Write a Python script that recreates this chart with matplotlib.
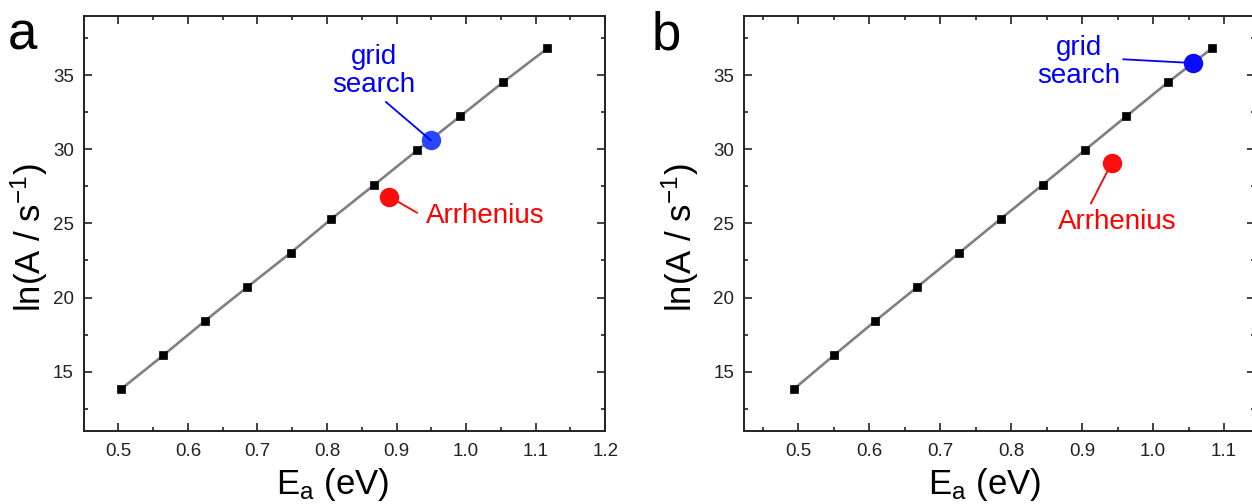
import matplotlib
matplotlib.use("Agg")
import matplotlib.pyplot as plt
from matplotlib.ticker import MultipleLocator

plt.rcParams["font.family"] = ["Liberation Sans", "DejaVu Sans"]
plt.rcParams["mathtext.default"] = "regular"

# Compensation-line points (activation energy vs. log prefactor)
ea_a = [0.5035, 0.5645, 0.6244, 0.6855, 0.7477, 0.8064, 0.8680, 0.9297, 0.9913, 1.0530, 1.1170]
lnA_a = [13.81, 16.10, 18.42, 20.71, 23.01, 25.30, 27.60, 29.93, 32.21, 34.51, 36.80]
ea_b = [0.4932, 0.5500, 0.6085, 0.6676, 0.7267, 0.7852, 0.8443, 0.9034, 0.9619, 1.0210, 1.0830]
lnA_b = [13.81, 16.10, 18.42, 20.71, 23.01, 25.30, 27.60, 29.92, 32.21, 34.51, 36.80]

# Fitted parameters from the two methods
grid_a = (0.949, 30.61)
arr_a = (0.889, 26.81)
grid_b = (1.0557, 35.81)
arr_b = (0.9415, 29.06)

W, H = 1252, 504
fig = plt.figure(figsize=(W / 100, H / 100), dpi=100)

ax_a = fig.add_axes([83.6 / W, (H - 431) / H, (605.2 - 83.6) / W, 415.3 / H])
ax_b = fig.add_axes([744 / W, (H - 431) / H, (1255 - 744) / W, 415.3 / H])


def style(ax, xlim, xmajor, xlab_x, ylab_x):
    ax.set_xlim(*xlim)
    ax.set_ylim(11, 39)
    ax.xaxis.set_minor_locator(MultipleLocator(0.05))
    ax.yaxis.set_major_locator(MultipleLocator(5))
    ax.yaxis.set_minor_locator(MultipleLocator(2.5))
    ax.set_xticks(xmajor)
    ax.set_xticklabels([f"{v:.1f}" for v in xmajor])
    ax.tick_params(which="both", direction="in", top=True, right=True,
                   labelsize=13.5, colors="#222222", width=1.2, pad=7)
    ax.tick_params(axis="x", which="both", pad=9)
    ax.tick_params(which="major", length=6)
    ax.tick_params(which="minor", length=3)
    for s in ax.spines.values():
        s.set_linewidth(1.4)
        s.set_color("#222222")
    ax.set_xlabel("E$_{a}$ (eV)", fontsize=25, va="top")
    ax.set_ylabel("ln(A / s$^{-1}$)", fontsize=25)
    ax.xaxis.set_label_coords(xlab_x, -0.085)
    ax.yaxis.set_label_coords(ylab_x, 0.465)


def draw(ax, xs, ys, grid, arr, grid_color):
    ax.plot(xs, ys, color="#808080", lw=1.9, zorder=2)
    ax.plot(xs, ys, ls="none", marker="s", ms=6.0, mew=0.5, color="black", zorder=3)
    ax.plot(*grid, marker="o", ms=14, mew=0, color=grid_color, ls="none", zorder=4)
    ax.plot(*arr, marker="o", ms=14, mew=0, color="#ff0d0d", ls="none", zorder=4)


style(ax_a, (0.45, 1.2), [0.5, 0.6, 0.7, 0.8, 0.9, 1.0, 1.1, 1.2], 0.478, -0.064)
style(ax_b, (0.4234, 1.1436), [0.5, 0.6, 0.7, 0.8, 0.9, 1.0, 1.1], 0.47, -0.084)

draw(ax_a, ea_a, lnA_a, grid_a, arr_a, "#2a46ff")
draw(ax_b, ea_b, lnA_b, grid_b, arr_b, "#0a0aff")

# Panel a annotations
ax_a.text(0.8675, 35.27, "grid\nsearch", color="#0000ff", fontsize=20,
          ha="center", va="center", linespacing=1.1)
ax_a.plot([0.8848, grid_a[0]], [33.18, grid_a[1]], color="#0000ff", lw=1.3, zorder=5)
ax_a.text(0.9423, 25.02, "Arrhenius", color="#ff0000", fontsize=20,
          ha="left", va="baseline")
ax_a.plot([arr_a[0], 0.9293], [arr_a[1], 25.72], color="#ff0000", lw=1.3, zorder=3)

# Panel b annotations
ax_b.text(0.8954, 35.88, "grid\nsearch", color="#0000ff", fontsize=20,
          ha="center", va="center", linespacing=1.1)
ax_b.plot([0.958, grid_b[0]], [36.06, grid_b[1]], color="#0000ff", lw=1.3, zorder=3)
ax_b.text(0.9489, 24.62, "Arrhenius", color="#ff0000", fontsize=20,
          ha="center", va="baseline")
ax_b.plot([0.9124, arr_b[0]], [26.35, arr_b[1]], color="#ff0000", lw=1.3, zorder=3)

fig.text(8 / W, 1 - 36 / H, "a", fontsize=38, ha="left", va="center")
fig.text(652 / W, 1 - 36 / H, "b", fontsize=38, ha="left", va="center")

fig.savefig("out.png", dpi=100)
